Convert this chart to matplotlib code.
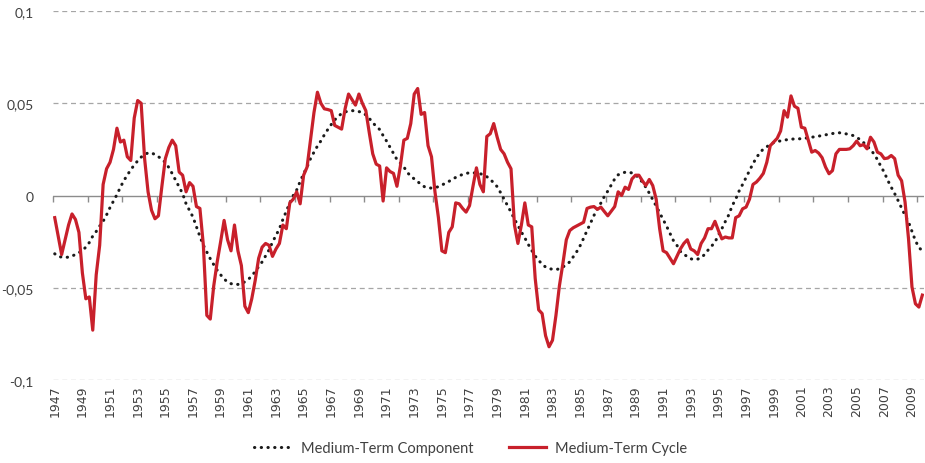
from matplotlib import pyplot as plt

# quarterly data, 1947Q1 .. 2009Q4
start_year = 1947
end_year = 2009

# Medium-Term Cycle (red)
cycle = [
    -0.012, -0.022, -0.032, -0.024,   # 1947
    -0.016, -0.010, -0.013, -0.020,   # 1948
    -0.042, -0.056, -0.055, -0.073,   # 1949
    -0.043, -0.027, 0.006, 0.0145,    # 1950
    0.018, 0.025, 0.0365, 0.029,      # 1951
    0.030, 0.021, 0.019, 0.042,       # 1952
    0.0515, 0.050, 0.020, 0.002,      # 1953
    -0.008, -0.0126, -0.011, 0.005,   # 1954
    0.020, 0.026, 0.030, 0.027,       # 1955
    0.0127, 0.011, 0.002, 0.007,      # 1956
    0.005, -0.006, -0.007, -0.027,    # 1957
    -0.065, -0.067, -0.049, -0.036,   # 1958
    -0.025, -0.0135, -0.024, -0.030,  # 1959
    -0.016, -0.030, -0.038, -0.060,   # 1960
    -0.0635, -0.056, -0.046, -0.034,  # 1961
    -0.028, -0.026, -0.027, -0.033,   # 1962
    -0.029, -0.026, -0.016, -0.018,   # 1963
    -0.004, -0.002, 0.002, -0.0045,   # 1964
    0.011, 0.0154, 0.030, 0.045,      # 1965
    0.056, 0.050, 0.047, 0.0466,      # 1966
    0.046, 0.038, 0.037, 0.036,       # 1967
    0.047, 0.055, 0.052, 0.049,       # 1968
    0.055, 0.050, 0.046, 0.034,       # 1969
    0.0226, 0.017, 0.016, -0.003,     # 1970
    0.015, 0.013, 0.012, 0.005,       # 1971
    0.016, 0.030, 0.031, 0.039,       # 1972
    0.055, 0.058, 0.044, 0.045,       # 1973
    0.027, 0.021, 0.002, -0.012,      # 1974
    -0.030, -0.031, -0.020, -0.017,   # 1975
    -0.004, -0.0045, -0.007, -0.009,  # 1976
    -0.0055, 0.005, 0.015, 0.006,     # 1977
    0.002, 0.032, 0.0335, 0.039,      # 1978
    0.0316, 0.025, 0.0226, 0.018,     # 1979
    0.0145, -0.016, -0.026, -0.016,   # 1980
    -0.004, -0.016, -0.017, -0.045,   # 1981
    -0.062, -0.064, -0.076, -0.082,   # 1982
    -0.0785, -0.065, -0.049, -0.037,  # 1983
    -0.024, -0.019, -0.0175, -0.0165, # 1984
    -0.0155, -0.0145, -0.007, -0.0063,  # 1985
    -0.006, -0.0075, -0.0063, -0.0087,  # 1986
    -0.011, -0.0085, -0.006, 0.002,   # 1987
    0.000, 0.0045, 0.0033, 0.009,     # 1988
    0.011, 0.011, 0.008, 0.0054,      # 1989
    0.0087, 0.0054, -0.002, -0.018,   # 1990
    -0.030, -0.031, -0.034, -0.037,   # 1991
    -0.033, -0.029, -0.026, -0.024,   # 1992
    -0.029, -0.030, -0.032, -0.026,   # 1993
    -0.023, -0.018, -0.018, -0.014,   # 1994
    -0.019, -0.0235, -0.0225, -0.023, # 1995
    -0.023, -0.012, -0.011, -0.0072,  # 1996
    -0.0063, -0.002, 0.006, 0.0073,   # 1997
    0.0094, 0.012, 0.018, 0.027,      # 1998
    0.029, 0.031, 0.035, 0.046,       # 1999
    0.0425, 0.054, 0.0484, 0.0473,    # 2000
    0.037, 0.0365, 0.030, 0.0235,     # 2001
    0.0244, 0.023, 0.0205, 0.0154,    # 2002
    0.0118, 0.0135, 0.0226, 0.025,    # 2003
    0.025, 0.025, 0.0253, 0.027,      # 2004
    0.0295, 0.027, 0.0276, 0.0253,    # 2005
    0.0316, 0.029, 0.0235, 0.0226,    # 2006
    0.020, 0.0203, 0.0217, 0.020,     # 2007
    0.011, 0.008, -0.0036, -0.0235,   # 2008
    -0.0496, -0.0587, -0.0605, -0.054,  # 2009
]

# Medium-Term Component (black dotted)
component = [
    -0.0316, -0.033, -0.0334, -0.0336,    # 1947
    -0.0334, -0.0328, -0.032, -0.031,     # 1948
    -0.0298, -0.028, -0.0255, -0.022,     # 1949
    -0.0195, -0.0166, -0.014, -0.0105,    # 1950
    -0.0065, -0.003, 0.0005, 0.0045,      # 1951
    0.0081, 0.011, 0.014, 0.0165,         # 1952
    0.0188, 0.0208, 0.0222, 0.0231,       # 1953
    0.0231, 0.0222, 0.021, 0.0198,        # 1954
    0.0178, 0.0152, 0.0118, 0.0082,       # 1955
    0.0046, 0.001, -0.0045, -0.0081,      # 1956
    -0.0117, -0.017, -0.0222, -0.027,     # 1957
    -0.0307, -0.0343, -0.0375, -0.0405,   # 1958
    -0.043, -0.0452, -0.047, -0.0478,     # 1959
    -0.0482, -0.0482, -0.0478, -0.0468,   # 1960
    -0.0455, -0.0436, -0.0412, -0.0385,   # 1961
    -0.036, -0.0328, -0.0295, -0.0253,    # 1962
    -0.0217, -0.018, -0.013, -0.0085,     # 1963
    -0.004, 0.0, 0.003, 0.0076,           # 1964
    0.0118, 0.0155, 0.020, 0.0235,        # 1965
    0.0268, 0.0296, 0.0329, 0.0358,       # 1966
    0.0385, 0.041, 0.0428, 0.0445,        # 1967
    0.0453, 0.0458, 0.046, 0.0459,        # 1968
    0.0455, 0.045, 0.0437, 0.0418,        # 1969
    0.0395, 0.0375, 0.0358, 0.0325,       # 1970
    0.0295, 0.0262, 0.0228, 0.0195,       # 1971
    0.0175, 0.0155, 0.0125, 0.0105,       # 1972
    0.009, 0.0075, 0.006, 0.0047,         # 1973
    0.0042, 0.004, 0.0042, 0.0048,        # 1974
    0.0057, 0.0066, 0.0076, 0.0088,       # 1975
    0.0098, 0.0107, 0.0114, 0.012,        # 1976
    0.0123, 0.0123, 0.0122, 0.0119,       # 1977
    0.0112, 0.0102, 0.0088, 0.0068,       # 1978
    0.0048, 0.0015, -0.002, -0.0055,      # 1979
    -0.009, -0.0128, -0.0162, -0.0198,    # 1980
    -0.023, -0.0265, -0.0298, -0.0328,    # 1981
    -0.0352, -0.0372, -0.0388, -0.0396,   # 1982
    -0.040, -0.0401, -0.0398, -0.0388,    # 1983
    -0.0375, -0.036, -0.0333, -0.0305,    # 1984
    -0.0272, -0.0232, -0.019, -0.015,     # 1985
    -0.0108, -0.0072, -0.0041, -0.0005,   # 1986
    0.0024, 0.0057, 0.009, 0.0112,        # 1987
    0.0121, 0.0126, 0.0127, 0.0122,       # 1988
    0.0112, 0.0095, 0.0072, 0.0045,       # 1989
    0.0013, -0.0022, -0.0057, -0.0094,    # 1990
    -0.013, -0.0166, -0.0205, -0.0245,    # 1991
    -0.027, -0.0303, -0.032, -0.033,      # 1992
    -0.0343, -0.0348, -0.0345, -0.0337,   # 1993
    -0.032, -0.0296, -0.0275, -0.0253,    # 1994
    -0.0215, -0.018, -0.0141, -0.0105,    # 1995
    -0.0055, -0.002, 0.0025, 0.006,       # 1996
    0.0098, 0.0135, 0.0172, 0.0205,       # 1997
    0.0232, 0.0252, 0.0264, 0.0278,       # 1998
    0.0287, 0.0293, 0.0296, 0.030,        # 1999
    0.0303, 0.0305, 0.0307, 0.0307,       # 2000
    0.0308, 0.031, 0.0313, 0.0316,        # 2001
    0.0319, 0.0322, 0.0325, 0.0329,       # 2002
    0.0332, 0.0336, 0.0338, 0.034,        # 2003
    0.0338, 0.0334, 0.033, 0.0325,        # 2004
    0.0315, 0.0303, 0.0287, 0.0267,       # 2005
    0.025, 0.0225, 0.0195, 0.0158,        # 2006
    0.0125, 0.0082, 0.0045, 0.001,        # 2007
    -0.0028, -0.0068, -0.0108, -0.0144,   # 2008
    -0.0195, -0.0245, -0.0282, -0.030,    # 2009
]

y_ticks = [-0.1, -0.05, 0, 0.05, 0.1]
y_tick_labels = ["-0,1", "-0,05", "0", "0,05", "0,1"]
year_labels = [str(y) for y in range(start_year, end_year + 1, 2)]

red = '#c8202b'
narrow = ['Liberation Sans Narrow', 'Lato', 'DejaVu Sans']

fig = plt.figure(figsize=(9.25, 4.64), dpi=100)
ax = fig.add_axes([0.0573, 0.179, 0.9417, 0.795])

x = list(range(len(cycle)))
ax.plot(x, component, color='#1a1a1a', linewidth=2.2,
        linestyle=(0, (0.1, 2.1)), dash_capstyle='round',
        label='Medium-Term Component', zorder=3)
ax.plot(x, cycle, color=red, linewidth=2.3, label='Medium-Term Cycle', zorder=4)

ax.set_xlim(-0.5, len(cycle) - 0.5)
ax.set_ylim(-0.1, 0.1)

# dashed gridlines, solid zero line
for v in y_ticks:
    if v == 0:
        ax.axhline(v, color='#8c8c8c', linewidth=1.0, zorder=2)
    else:
        ax.axhline(v, color='#a6a6a6', linewidth=0.9, linestyle=(0, (4, 3)), zorder=1)

for s in ax.spines.values():
    s.set_visible(False)

ax.set_yticks(y_ticks)
ax.set_yticklabels(y_tick_labels, family=narrow, fontsize=10, color='#404040')
ax.tick_params(axis='y', length=0, pad=14)

ax.set_xticks(range(0, len(cycle), 8))
ax.set_xticklabels(year_labels, rotation=90, fontsize=9, color='#404040')
ax.tick_params(axis='x', length=0, pad=3)

# tick marks on the zero line every 10 quarters (no labels)
zero_ax = ax.secondary_xaxis(0.5)
zero_ax.set_xticks([t - 0.5 for t in range(0, len(cycle) + 1, 10)])
zero_ax.set_xticklabels([])
zero_ax.tick_params(axis='x', direction='in', length=4, width=1.0, color='#8c8c8c',
                    labelbottom=False, labeltop=False)
for s in zero_ax.spines.values():
    s.set_visible(False)

leg = fig.legend(loc='center', bbox_to_anchor=(0.509, 0.032), ncol=2, frameon=False,
                 prop={'family': narrow, 'size': 10.5}, handlelength=2.6,
                 columnspacing=2.4, handletextpad=0.6)
for t in leg.get_texts():
    t.set_color('#404040')

plt.savefig('out.png', dpi=100)
plt.close()
